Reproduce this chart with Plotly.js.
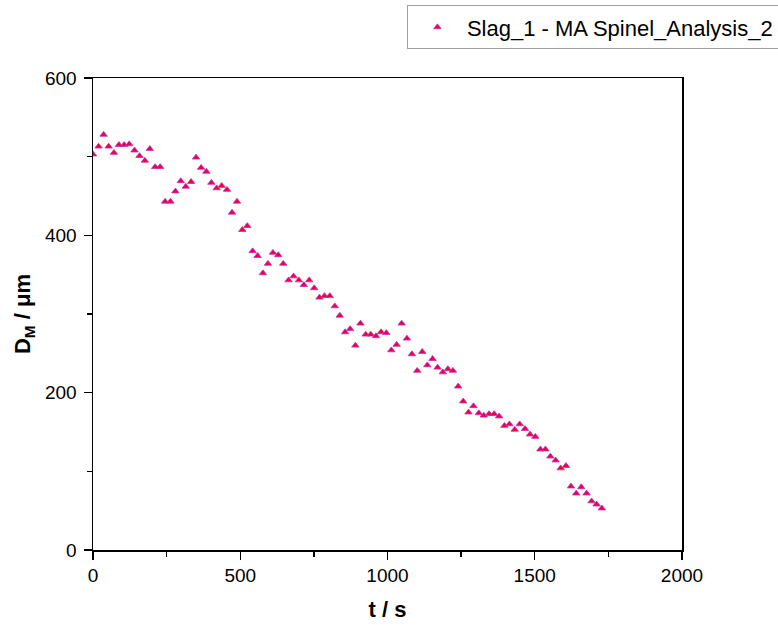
<!DOCTYPE html>
<html>
<head>
<meta charset="utf-8">
<script src="https://cdn.plot.ly/plotly-3.0.1.min.js"></script>
<style>html,body{margin:0;padding:0;background:#fff;}#chart{width:778px;height:625px;}</style>
</head>
<body>
<div id="chart"></div>
<script>
const seriesName = "Slag_1 - MA Spinel_Analysis_2";
const timeS = [0,19,36,53,71,88,106,123,141,158,176,193,211,228,245,263,280,298,315,333,
  350,367,385,402,420,437,455,472,489,507,524,542,559,577,594,611,629,646,664,681,
  699,716,734,751,769,786,804,821,838,856,873,891,908,926,943,961,978,996,1013,1031,
  1048,1066,1083,1101,1118,1135,1153,1170,1188,1205,1222,1240,1257,1275,1292,1310,1327,1345,1362,1379,
  1397,1414,1432,1449,1467,1484,1502,1519,1536,1553,1571,1588,1606,1623,1641,1658,1676,1693,1710,1728];
const diameterUm = [503,513,528,513,505,515,515,516,508,501,495,510,487,487,443,443,456,469,462,468,
  499,486,481,467,460,463,458,429,443,407,412,380,374,352,364,378,375,364,343,348,
  343,337,343,333,321,323,323,310,298,277,281,260,288,274,274,272,277,276,254,261,
  288,269,249,228,252,235,243,232,226,230,228,208,189,175,183,174,171,173,173,170,
  158,160,153,160,154,147,144,128,128,119,114,104,107,81,72,80,72,62,58,53];
const xTickVals = [0,500,1000,1500,2000];
const yTickVals = [0,200,400,600];

const trace = {
  x: timeS, y: diameterUm, type: 'scatter', mode: 'markers', name: seriesName,
  marker: {symbol: 'triangle-up', size: 6.5, color: '#f0003c', line: {color: '#c030c8', width: 0.8}}
};
const axisCommon = {
  showgrid: false, zeroline: false, showline: true, linecolor: '#000', linewidth: 1.5,
  mirror: true, ticks: 'outside', ticklen: 8, tickwidth: 1.3, tickcolor: '#000',
  tickfont: {family: 'Liberation Sans, Arial, sans-serif', size: 19, color: '#000'},
  minor: {ticks: 'outside', ticklen: 5, tickwidth: 1.3, tickcolor: '#000', showgrid: false}
};
const layout = {
  width: 778, height: 625,
  margin: {l: 93, r: 96, t: 78, b: 75, autoexpand: false},
  paper_bgcolor: '#fff', plot_bgcolor: '#fff',
  showlegend: true,
  legend: {x: 0.533, y: 1.154, xanchor: 'left', yanchor: 'top',
    bordercolor: '#a0a0a0', borderwidth: 1,
    bgcolor: '#fff', font: {family: 'Liberation Sans, Arial, sans-serif', size: 22, color: '#000'},
    itemwidth: 49},
  xaxis: Object.assign({}, axisCommon, {
    range: [0, 2000], tickvals: xTickVals, ticktext: xTickVals.map(String),
    minor: Object.assign({}, axisCommon.minor, {dtick: 250, tick0: 0}),
    title: {text: '<b>t / s</b>', font: {family: 'Liberation Sans, Arial, sans-serif', size: 22, color: '#000'}, standoff: 16}
  }),
  yaxis: Object.assign({}, axisCommon, {
    range: [0, 600], tickvals: yTickVals, ticktext: yTickVals.map(String),
    ticklabelstandoff: 3,
    minor: Object.assign({}, axisCommon.minor, {dtick: 100, tick0: 0}),
    title: {text: '<b>D<sub>M</sub> / μm</b>', font: {family: 'Liberation Sans, Arial, sans-serif', size: 22, color: '#000'}, standoff: 8}
  })
};
Plotly.newPlot('chart', [trace], layout, {displayModeBar: false, staticPlot: true});
</script>
</body>
</html>
